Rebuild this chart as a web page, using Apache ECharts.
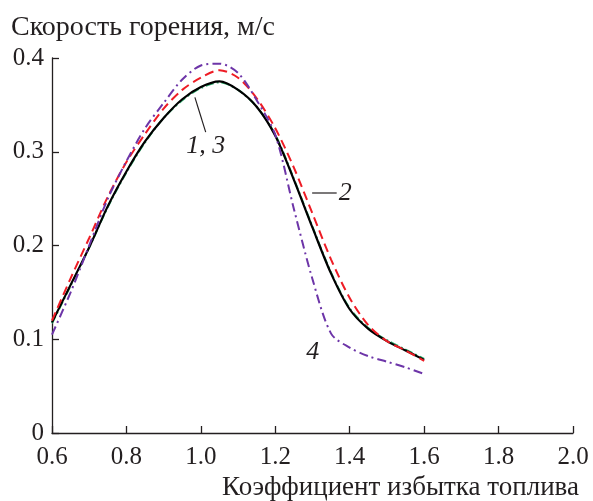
<!DOCTYPE html>
<html>
	<head>
		<meta charset="utf-8">
		<title></title>
		<script src="https://cdn.jsdelivr.net/npm/echarts@6/dist/echarts.min.js"></script>
		<style>
			html, body { margin: 0; padding: 0; background: #fff; }
			#main { width: 593px; height: 501px; }
		</style>
	</head>
	<body>
		<div id="main"></div>
		<script>
			// коэффициент избытка топлива
			var xValues = [0.60, 0.65, 0.70, 0.75, 0.80, 0.85, 0.90, 0.95, 1.00, 1.05, 1.10,
				1.15, 1.20, 1.25, 1.30, 1.35, 1.40, 1.45, 1.50, 1.55, 1.60];
			// кривые 1..4, скорость горения м/с
			var curve1 = [0.118, 0.158, 0.198, 0.242, 0.279, 0.311, 0.336, 0.356, 0.369, 0.375, 0.366,
				0.348, 0.317, 0.270, 0.219, 0.170, 0.132, 0.111, 0.098, 0.088, 0.078];
			var curve2 = [0.120, 0.165, 0.208, 0.252, 0.289, 0.319, 0.346, 0.366, 0.379, 0.387, 0.379,
				0.357, 0.325, 0.283, 0.234, 0.185, 0.144, 0.115, 0.098, 0.088, 0.077];
			var curve3 = [0.117, 0.157, 0.198, 0.241, 0.278, 0.310, 0.336, 0.355, 0.368, 0.374, 0.366,
				0.348, 0.318, 0.271, 0.220, 0.171, 0.133, 0.112, 0.099, 0.089, 0.079];
			var curve4 = [0.105, 0.150, 0.200, 0.250, 0.290, 0.325, 0.352, 0.377, 0.392, 0.394, 0.384,
				0.355, 0.318, 0.239, 0.164, 0.106, 0.091, 0.082, 0.076, 0.070, 0.063];

			var serif = '"Liberation Serif", "DejaVu Serif", serif';
			var ink = '#231f20';

			function pairs(ys) {
				return xValues.map(function(x, i) { return [x, ys[i]]; });
			}

			var chartDom = document.getElementById('main');
			var myChart = echarts.init(chartDom, null, { renderer: 'canvas' });

			var option = {
				animation: false,
				title: {
					text: 'Скорость горения, м/с',
					left: 6,
					top: 9,
					textStyle: { fontFamily: serif, fontSize: 28, fontWeight: 'normal', color: ink }
				},
				grid: { left: 52, right: 20, top: 58, bottom: 68 },
				xAxis: {
					type: 'value',
					min: 0.6,
					max: 2.0,
					interval: 0.2,
					name: 'Коэффициент избытка топлива',
					nameLocation: 'end',
					nameGap: 6,
					nameTextStyle: {
						fontFamily: serif, fontSize: 27, color: ink,
						align: 'right', verticalAlign: 'top', padding: [41, 0, 0, 0]
					},
					axisLine: { lineStyle: { color: ink, width: 1.3 } },
					axisTick: { inside: true, length: 7, lineStyle: { color: ink, width: 1.3 } },
					axisLabel: {
						fontFamily: serif, fontSize: 25, color: ink, margin: 12,
						formatter: function(v) { return v.toFixed(1); }
					},
					splitLine: { show: false }
				},
				yAxis: {
					type: 'value',
					min: 0,
					max: 0.4,
					interval: 0.1,
					axisLine: { show: true, lineStyle: { color: ink, width: 1.3 } },
					axisTick: { show: true, inside: true, length: 7, lineStyle: { color: ink, width: 1.3 } },
					axisLabel: {
						fontFamily: serif, fontSize: 25, color: ink, margin: 8,
						formatter: function(v) { return v === 0 ? '0' : v.toFixed(1); }
					},
					splitLine: { show: false }
				},
				series: [
					{
						name: '3', type: 'line', data: pairs(curve3), symbol: 'none', smooth: 0.3,
						lineStyle: { color: '#2fae6e', width: 2, type: [8, 3, 2, 3] }, z: 2
					},
					{
						name: '1', type: 'line', data: pairs(curve1), symbol: 'none', smooth: 0.3,
						lineStyle: { color: '#000000', width: 2.2 }, z: 3
					},
					{
						name: '2', type: 'line', data: pairs(curve2), symbol: 'none', smooth: 0.3,
						lineStyle: { color: '#ee1c25', width: 2, type: [9, 5] }, z: 4
					},
					{
						name: '4', type: 'line', data: pairs(curve4), symbol: 'none', smooth: 0.3,
						lineStyle: { color: '#6d35a8', width: 2, type: [9, 4, 2, 4] }, z: 4
					}
				]
			};
			myChart.setOption(option);

			// подписи кривых
			var p = function(x, y) { return myChart.convertToPixel({ gridIndex: 0 }, [x, y]); };
			var a1 = p(0.984, 0.358), a2 = p(1.013, 0.321), t13 = p(1.013, 0.306);
			var b1 = p(1.299, 0.256), b2 = p(1.365, 0.256), t2 = p(1.368, 0.256);
			var t4 = p(1.301, 0.086);
			var labelStyle = { fontFamily: serif, fontSize: 26, fontStyle: 'italic', fill: ink };
			myChart.setOption({
				graphic: [
					{ type: 'line', shape: { x1: a1[0], y1: a1[1], x2: a2[0], y2: a2[1] }, style: { stroke: ink, lineWidth: 1.2 } },
					{ type: 'text', x: t13[0], y: t13[1], style: Object.assign({ text: '1, 3', align: 'center', verticalAlign: 'middle' }, labelStyle) },
					{ type: 'line', shape: { x1: b1[0], y1: b1[1], x2: b2[0], y2: b2[1] }, style: { stroke: ink, lineWidth: 1.2 } },
					{ type: 'text', x: t2[0] + 1, y: t2[1], style: Object.assign({ text: '2', align: 'left', verticalAlign: 'middle' }, labelStyle) },
					{ type: 'text', x: t4[0], y: t4[1], style: Object.assign({ text: '4', align: 'center', verticalAlign: 'middle' }, labelStyle) }
				]
			});
		</script>
	</body>
</html>
